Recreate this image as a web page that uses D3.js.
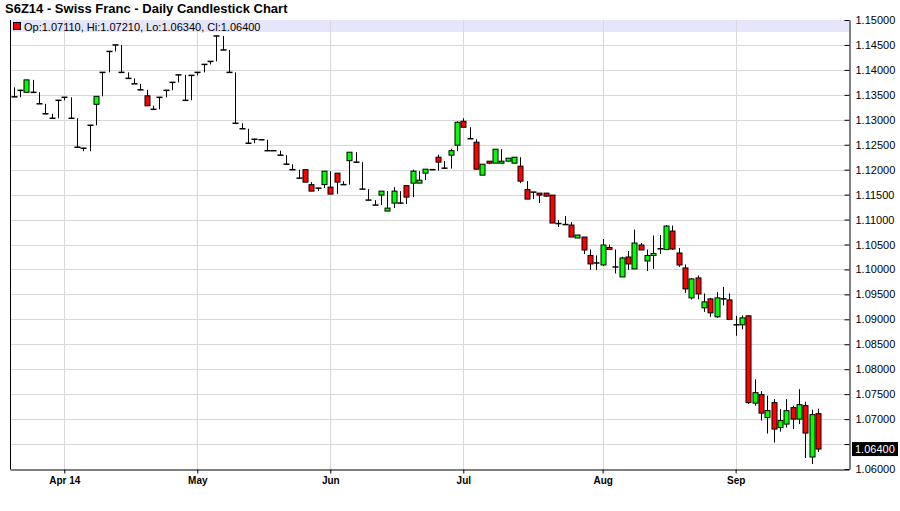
<!DOCTYPE html>
<html>
<head>
<meta charset="utf-8">
<script src="https://cdn.jsdelivr.net/npm/d3@7"></script>
<style>
  html, body { margin: 0; padding: 0; background: #ffffff; }
  svg { display: block; font-family: "Liberation Sans", Arial, sans-serif; }
</style>
</head>
<body>
<svg id="chart" width="900" height="511"></svg>
<script>
// ---------- DATA ----------
const chartTitle = "S6Z14 - Swiss Franc - Daily Candlestick Chart";

const opens = [
  1.1346,1.1359,1.1355,1.1355,1.1332,1.1312,1.1303,1.1339,1.1345,1.1303,
  1.1245,1.1243,1.1289,1.1331,1.1395,1.1437,1.1450,1.1395,1.1383,1.1372,
  1.1360,1.1348,1.1321,1.1345,1.1359,1.1375,1.1390,1.1339,1.1389,1.1395,
  1.1411,1.1417,1.1468,1.1440,1.1395,1.1293,1.1282,1.1253,1.1261,1.1260,
  1.1238,1.1238,1.1229,1.1211,1.1200,1.1183,1.1200,1.1170,1.1163,1.1170,
  1.1165,1.1193,1.1170,1.1218,1.1215,1.1161,1.1139,1.1129,1.1149,1.1117,
  1.1133,1.1133,1.1168,1.1173,1.1173,1.1193,1.1200,1.1225,1.1203,1.1229,
  1.1249,1.1297,1.1262,1.1255,1.1189,1.1217,1.1213,1.1213,1.1217,1.1213,
  1.1207,1.1160,1.1155,1.1153,1.1153,1.1149,1.1092,1.1090,1.1089,1.1063,
  1.1065,1.1028,1.1013,1.1009,1.1044,1.1005,1.0985,1.1025,1.1001,1.1049,
  1.1017,1.1028,1.1040,1.1040,1.1077,1.1033,1.1003,1.0943,1.0983,1.0923,
  1.0941,1.0905,1.0941,1.0939,1.0889,1.0889,1.0907,1.0732,1.0749,1.0703,
  1.0733,1.0683,1.0690,1.0723,1.0700,1.0727,1.0624,1.0711
];
const highs = [
  1.1365,1.1359,1.1380,1.1380,1.1355,1.1332,1.1312,1.1339,1.1345,1.1345,
  1.1303,1.1243,1.1289,1.1347,1.1395,1.1437,1.1450,1.1450,1.1395,1.1383,
  1.1372,1.1360,1.1328,1.1345,1.1359,1.1375,1.1390,1.1390,1.1389,1.1395,
  1.1411,1.1417,1.1468,1.1468,1.1440,1.1395,1.1293,1.1282,1.1261,1.1261,
  1.1260,1.1238,1.1238,1.1229,1.1211,1.1200,1.1200,1.1175,1.1163,1.1197,
  1.1197,1.1193,1.1177,1.1235,1.1235,1.1215,1.1161,1.1139,1.1157,1.1157,
  1.1165,1.1157,1.1168,1.1200,1.1197,1.1201,1.1201,1.1230,1.1217,1.1242,
  1.1297,1.1303,1.1285,1.1261,1.1211,1.1217,1.1241,1.1241,1.1223,1.1225,
  1.1225,1.1177,1.1155,1.1153,1.1153,1.1149,1.1099,1.1107,1.1095,1.1069,
  1.1065,1.1040,1.1028,1.1061,1.1050,1.1040,1.1025,1.1037,1.1080,1.1053,
  1.1040,1.1068,1.1069,1.1089,1.1088,1.1043,1.1010,1.0983,1.0988,1.0952,
  1.0943,1.0955,1.0965,1.0952,1.0907,1.0908,1.0908,1.0780,1.0756,1.0747,
  1.0740,1.0720,1.0740,1.0727,1.0760,1.0735,1.0719,1.0721
];
const lows = [
  1.1346,1.1345,1.1355,1.1355,1.1332,1.1312,1.1303,1.1303,1.1339,1.1303,
  1.1245,1.1237,1.1237,1.1289,1.1347,1.1395,1.1437,1.1395,1.1383,1.1372,
  1.1360,1.1328,1.1321,1.1321,1.1345,1.1359,1.1375,1.1339,1.1339,1.1389,
  1.1395,1.1411,1.1417,1.1440,1.1395,1.1293,1.1282,1.1253,1.1253,1.1260,
  1.1238,1.1238,1.1229,1.1211,1.1200,1.1183,1.1175,1.1157,1.1157,1.1163,
  1.1151,1.1151,1.1170,1.1170,1.1215,1.1161,1.1139,1.1129,1.1129,1.1117,
  1.1123,1.1133,1.1131,1.1145,1.1173,1.1179,1.1200,1.1198,1.1203,1.1202,
  1.1237,1.1285,1.1262,1.1200,1.1189,1.1211,1.1213,1.1213,1.1217,1.1213,
  1.1173,1.1141,1.1141,1.1133,1.1145,1.1093,1.1085,1.1090,1.1065,1.1063,
  1.1031,1.0999,1.0999,1.1007,1.1040,1.0992,1.0985,1.0999,1.1001,1.1039,
  1.0997,1.1001,1.1031,1.1040,1.1039,1.1005,1.0953,1.0940,1.0940,1.0915,
  1.0905,1.0903,1.0928,1.0900,1.0867,1.0880,1.0730,1.0727,1.0697,1.0671,
  1.0653,1.0675,1.0683,1.0680,1.0690,1.0622,1.0610,1.0634
];
const closes = [
  1.1346,1.1359,1.1380,1.1355,1.1332,1.1312,1.1303,1.1339,1.1345,1.1303,
  1.1245,1.1243,1.1289,1.1347,1.1395,1.1437,1.1450,1.1395,1.1383,1.1372,
  1.1360,1.1328,1.1321,1.1345,1.1359,1.1375,1.1390,1.1339,1.1389,1.1395,
  1.1411,1.1417,1.1468,1.1440,1.1395,1.1293,1.1282,1.1253,1.1261,1.1260,
  1.1238,1.1238,1.1229,1.1211,1.1200,1.1183,1.1175,1.1157,1.1163,1.1197,
  1.1151,1.1175,1.1170,1.1235,1.1215,1.1161,1.1139,1.1129,1.1157,1.1123,
  1.1157,1.1133,1.1145,1.1197,1.1179,1.1201,1.1200,1.1215,1.1203,1.1238,
  1.1295,1.1285,1.1262,1.1201,1.1211,1.1213,1.1241,1.1217,1.1223,1.1225,
  1.1177,1.1141,1.1155,1.1149,1.1147,1.1093,1.1092,1.1090,1.1065,1.1069,
  1.1039,1.1011,1.1013,1.1049,1.1040,1.1005,1.1023,1.1011,1.1053,1.1039,
  1.1028,1.1032,1.1043,1.1087,1.1041,1.1009,1.0961,1.0981,1.0951,1.0935,
  1.0913,1.0943,1.0941,1.0900,1.0889,1.0903,1.0733,1.0753,1.0712,1.0717,
  1.0680,1.0697,1.0717,1.0700,1.0729,1.0672,1.0709,1.0640
];

// month ticks: trading-day index of the first session of each month
const monthTickIndex = [8, 29, 50, 71, 93, 114];
const monthLabels = ["Apr 14", "May", "Jun", "Jul", "Aug", "Sep"];

const yTicks = [1.15,1.145,1.14,1.135,1.13,1.125,1.12,1.115,1.11,1.105,1.10,
                1.095,1.09,1.085,1.08,1.075,1.07,1.065,1.06];

// ---------- LAYOUT ----------
const svg = d3.select("#chart");
const plot = { left: 10, right: 849, top: 20, bottom: 469 };

const data = opens.map((o, i) => ({ i, o, h: highs[i], l: lows[i], c: closes[i] }));
const last = data[data.length - 1];

const x = d3.scaleLinear().domain([-0.57, 131.9]).range([plot.left, plot.right]);
const y = d3.scaleLinear().domain([1.06, 1.15]).range([plot.bottom, plot.top]);
const fmt = d3.format(".5f");

// title
svg.append("text")
  .attr("x", 5).attr("y", 13)
  .attr("font-size", 13).attr("font-weight", "bold").attr("fill", "#000")
  .text(chartTitle);

// legend bar background
svg.append("rect")
  .attr("x", plot.left).attr("y", plot.top)
  .attr("width", plot.right - plot.left).attr("height", 12)
  .attr("fill", "#e6e6fa");

// horizontal grid
svg.append("g").selectAll("line").data(yTicks.slice(1, -1)).join("line")
  .attr("x1", plot.left).attr("x2", plot.right)
  .attr("y1", d => Math.round(y(d)) + 0.5).attr("y2", d => Math.round(y(d)) + 0.5)
  .attr("stroke", "#d8d8d8").attr("stroke-width", 1);

// vertical grid
svg.append("g").selectAll("line").data(monthTickIndex).join("line")
  .attr("x1", d => Math.round(x(d)) + 0.5).attr("x2", d => Math.round(x(d)) + 0.5)
  .attr("y1", plot.top).attr("y2", plot.bottom)
  .attr("stroke", "#d8d8d8").attr("stroke-width", 1);

// legend text
svg.append("rect")
  .attr("x", 13.5).attr("y", 22.5).attr("width", 7).attr("height", 7)
  .attr("fill", last.c >= last.o ? "#00ff00" : "#ff0000")
  .attr("stroke", "#000").attr("stroke-width", 1);
svg.append("text")
  .attr("x", 24).attr("y", 30.5)
  .attr("font-size", 11).attr("fill", "#000")
  .text(`Op:${fmt(last.o)}, Hi:${fmt(last.h)}, Lo:${fmt(last.l)}, Cl:${fmt(last.c)}`);

// candles
const candles = svg.append("g");
const cg = candles.selectAll("g").data(data).join("g");
cg.append("line")
  .attr("x1", d => Math.round(x(d.i)) + 0.5).attr("x2", d => Math.round(x(d.i)) + 0.5)
  .attr("y1", d => y(d.h)).attr("y2", d => y(d.l))
  .attr("stroke", "#000").attr("stroke-width", 1);
cg.each(function(d) {
  const g = d3.select(this);
  const cx = Math.round(x(d.i)) + 0.5;
  const top = y(Math.max(d.o, d.c)), bot = y(Math.min(d.o, d.c));
  if (bot - top < 1.5) {
    g.append("line")
      .attr("x1", cx - 3).attr("x2", cx + 3)
      .attr("y1", (top + bot) / 2).attr("y2", (top + bot) / 2)
      .attr("stroke", "#000").attr("stroke-width", 1.5);
  } else {
    g.append("rect")
      .attr("x", cx - 2.5).attr("width", 5)
      .attr("y", top).attr("height", bot - top)
      .attr("fill", d.c > d.o ? "#00ff00" : "#ff0000")
      .attr("stroke", "#000").attr("stroke-width", 1);
  }
});

// right axis
const yAxis = d3.axisRight(y).tickValues(yTicks)
  .tickSizeInner(-5).tickSizeOuter(0).tickPadding(6)
  .tickFormat(d => Math.abs(d - 1.065) < 1e-9 ? "" : fmt(d));
const ya = svg.append("g").attr("transform", `translate(${plot.right + 0.5},0)`).call(yAxis);
ya.select(".domain").attr("stroke", "#000");
ya.selectAll(".tick line").attr("stroke", "#000");
ya.selectAll("text").attr("font-size", 11).attr("fill", "#000")
  .attr("font-family", "'Liberation Sans', Arial, sans-serif");

// last price box
const ly = y(last.c);
svg.append("rect")
  .attr("x", plot.right + 3).attr("y", ly - 7)
  .attr("width", 46).attr("height", 14).attr("fill", "#000");
svg.append("text")
  .attr("x", plot.right + 6).attr("y", ly + 4)
  .attr("font-size", 11).attr("fill", "#fff")
  .text(fmt(last.c));

// bottom axis
const xAxis = d3.axisBottom(x).tickValues(monthTickIndex)
  .tickFormat((d, i) => monthLabels[i]).tickSizeInner(4).tickSizeOuter(0).tickPadding(3);
const xa = svg.append("g").attr("transform", `translate(0,${plot.bottom + 0.5})`).call(xAxis);
xa.select(".domain").attr("stroke", "#000");
xa.selectAll(".tick line").attr("stroke", "#000");
xa.selectAll("text").attr("font-size", 10).attr("font-weight", "bold").attr("fill", "#000")
  .attr("font-family", "'Liberation Sans Narrow', 'Liberation Sans', Arial, sans-serif");

// left frame
svg.append("line")
  .attr("x1", plot.left + 0.5).attr("x2", plot.left + 0.5)
  .attr("y1", plot.top).attr("y2", plot.bottom + 0.5)
  .attr("stroke", "#000");
</script>
</body>
</html>
